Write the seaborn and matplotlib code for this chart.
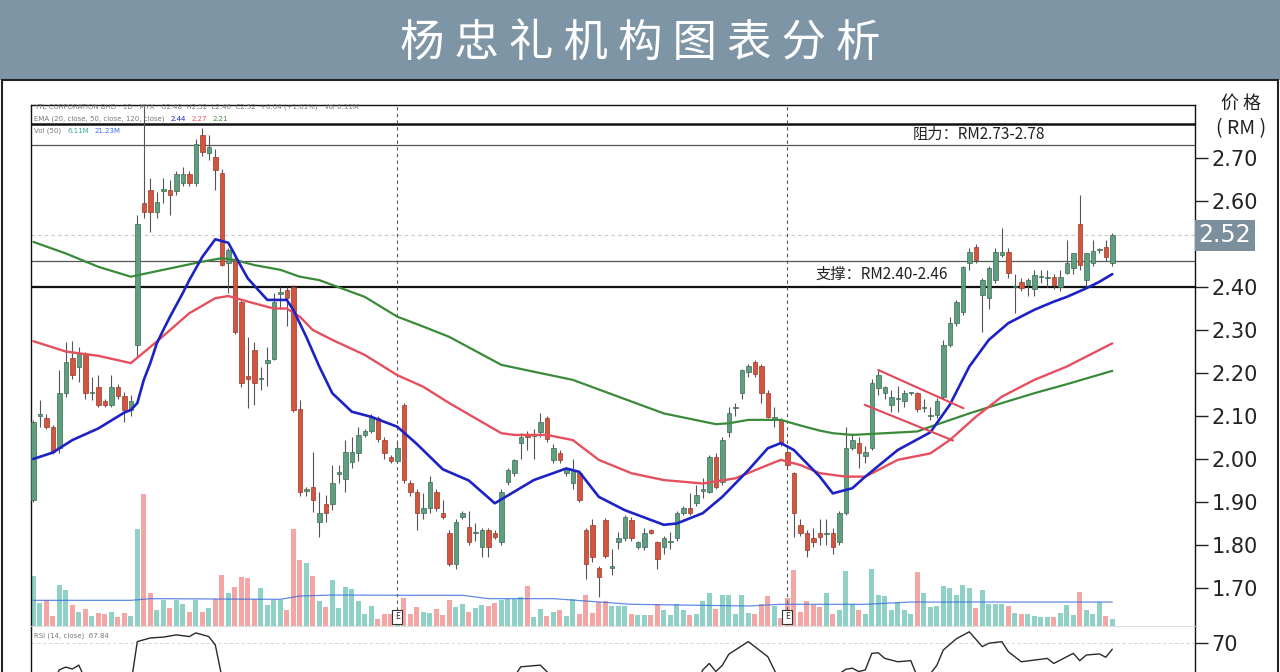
import numpy as np
import pandas as pd
import matplotlib
matplotlib.use("Agg")
import matplotlib.pyplot as plt
import seaborn as sns
from matplotlib.patches import Rectangle

# ---- values (daily candles, RM) ----
title = "杨忠礼机构图表分析"

opens = [
    1.905, 2.100, 2.095, 2.074, 2.025, 2.153, 2.235, 2.214, 2.244, 2.153,
    2.167, 2.135, 2.126, 2.167, 2.147, 2.114, 2.265, 2.595, 2.626, 2.574,
    2.624, 2.626, 2.623, 2.642, 2.663, 2.642, 2.753, 2.712, 2.702, 2.665,
    2.456, 2.463, 2.365, 2.193, 2.253, 2.186, 2.223, 2.233, 2.384, 2.393,
    2.400, 2.116, 1.925, 1.935, 1.854, 1.895, 1.895, 1.965, 1.953, 1.993,
    2.014, 2.056, 2.065, 2.095, 2.044, 2.005, 1.995, 2.126, 1.944, 1.923,
    1.874, 1.886, 1.923, 1.874, 1.828, 1.756, 1.865, 1.842, 1.827, 1.795,
    1.835, 1.828, 1.807, 1.946, 1.967, 2.037, 2.053, 2.053, 2.063, 2.095,
    1.998, 2.014, 1.967, 1.944, 1.967, 1.835, 1.846, 1.747, 1.858, 1.747,
    1.807, 1.816, 1.858, 1.795, 1.795, 1.835, 1.807, 1.795, 1.807, 1.816,
    1.874, 1.886, 1.898, 1.925, 1.923, 2.005, 1.946, 2.063, 2.119, 2.153,
    2.202, 2.226, 2.216, 2.153, 2.094, 2.091, 2.016, 1.967, 1.846, 1.828,
    1.816, 1.828, 1.826, 1.828, 1.807, 1.874, 2.026, 2.037, 2.007, 2.026,
    2.165, 2.153, 2.126, 2.140, 2.135, 2.153, 2.153, 2.118, 2.100, 2.102,
    2.144, 2.265, 2.316, 2.342, 2.456, 2.493, 2.381, 2.374, 2.416, 2.474,
    2.481, 2.400, 2.412, 2.405, 2.395, 2.423, 2.420, 2.423, 2.400, 2.433,
    2.444, 2.547, 2.416, 2.456, 2.486, 2.493, 2.456]
closes = [
    2.086, 2.105, 2.075, 2.016, 2.153, 2.226, 2.195, 2.247, 2.153, 2.154,
    2.126, 2.126, 2.167, 2.147, 2.114, 2.135, 2.547, 2.574, 2.574, 2.598,
    2.626, 2.614, 2.663, 2.663, 2.642, 2.733, 2.714, 2.726, 2.672, 2.451,
    2.486, 2.295, 2.177, 2.186, 2.177, 2.188, 2.230, 2.365, 2.388, 2.374,
    2.114, 1.923, 1.930, 1.905, 1.874, 1.874, 1.944, 1.969, 2.016, 2.016,
    2.056, 2.065, 2.098, 2.047, 2.014, 1.995, 2.026, 1.951, 1.923, 1.874,
    1.886, 1.946, 1.886, 1.865, 1.756, 1.853, 1.874, 1.807, 1.828, 1.835,
    1.795, 1.819, 1.923, 1.974, 1.998, 2.051, 2.052, 2.054, 2.086, 2.047,
    2.026, 1.998, 1.977, 1.974, 1.905, 1.756, 1.772, 1.726, 1.774, 1.748,
    1.816, 1.865, 1.816, 1.807, 1.828, 1.828, 1.767, 1.816, 1.808, 1.874,
    1.886, 1.874, 1.916, 1.930, 2.005, 1.935, 2.044, 2.107, 2.120, 2.207,
    2.216, 2.198, 2.153, 2.098, 2.098, 2.037, 1.986, 1.874, 1.828, 1.788,
    1.807, 1.819, 1.829, 1.795, 1.874, 2.026, 2.044, 2.014, 2.016, 2.177,
    2.195, 2.167, 2.144, 2.141, 2.153, 2.154, 2.116, 2.122, 2.101, 2.135,
    2.265, 2.316, 2.365, 2.447, 2.481, 2.463, 2.416, 2.444, 2.481, 2.481,
    2.433, 2.402, 2.398, 2.416, 2.428, 2.424, 2.421, 2.405, 2.423, 2.456,
    2.479, 2.451, 2.479, 2.484, 2.487, 2.470, 2.520]
highs = [
    2.090, 2.137, 2.105, 2.080, 2.207, 2.272, 2.274, 2.260, 2.250, 2.190,
    2.195, 2.140, 2.195, 2.175, 2.155, 2.150, 2.568, 2.820, 2.653, 2.620,
    2.653, 2.650, 2.670, 2.680, 2.670, 2.744, 2.770, 2.753, 2.720, 2.675,
    2.490, 2.470, 2.370, 2.284, 2.272, 2.215, 2.260, 2.386, 2.400, 2.400,
    2.405, 2.137, 1.935, 2.016, 1.923, 1.916, 1.986, 1.986, 2.044, 2.050,
    2.075, 2.070, 2.105, 2.100, 2.050, 2.010, 2.040, 2.130, 1.950, 1.930,
    1.920, 1.960, 1.930, 1.905, 1.835, 1.860, 1.880, 1.880, 1.850, 1.840,
    1.840, 1.835, 1.930, 1.980, 2.000, 2.060, 2.065, 2.070, 2.107, 2.100,
    2.035, 2.020, 1.980, 2.000, 1.970, 1.840, 1.860, 1.750, 1.862, 1.790,
    1.830, 1.870, 1.865, 1.810, 1.840, 1.838, 1.810, 1.820, 1.830, 1.880,
    1.890, 1.920, 1.940, 1.955, 2.010, 2.015, 2.050, 2.120, 2.130, 2.210,
    2.220, 2.230, 2.220, 2.160, 2.120, 2.095, 2.020, 1.970, 1.860, 1.835,
    1.840, 1.860, 1.860, 1.840, 1.880, 2.075, 2.060, 2.050, 2.030, 2.186,
    2.207, 2.170, 2.160, 2.170, 2.160, 2.156, 2.156, 2.140, 2.120, 2.143,
    2.277, 2.330, 2.370, 2.450, 2.490, 2.500, 2.420, 2.450, 2.490, 2.537,
    2.490, 2.430, 2.420, 2.420, 2.440, 2.440, 2.440, 2.430, 2.440, 2.509,
    2.480, 2.614, 2.480, 2.510, 2.490, 2.510, 2.525]
lows = [
    1.900, 2.074, 2.070, 2.012, 2.015, 2.144, 2.185, 2.180, 2.140, 2.137,
    2.120, 2.120, 2.120, 2.140, 2.086, 2.100, 2.237, 2.560, 2.528, 2.560,
    2.595, 2.567, 2.615, 2.635, 2.635, 2.635, 2.705, 2.695, 2.626, 2.450,
    2.386, 2.290, 2.168, 2.118, 2.126, 2.160, 2.170, 2.230, 2.350, 2.310,
    2.110, 1.915, 1.915, 1.877, 1.819, 1.853, 1.881, 1.944, 1.923, 1.980,
    1.995, 2.050, 2.060, 2.040, 2.000, 1.990, 1.990, 1.945, 1.915, 1.835,
    1.860, 1.874, 1.880, 1.860, 1.750, 1.745, 1.860, 1.800, 1.810, 1.772,
    1.772, 1.815, 1.800, 1.940, 1.960, 2.000, 2.020, 2.000, 2.050, 2.040,
    1.990, 1.990, 1.960, 1.930, 1.900, 1.720, 1.760, 1.679, 1.770, 1.730,
    1.790, 1.810, 1.810, 1.790, 1.788, 1.826, 1.745, 1.780, 1.790, 1.810,
    1.870, 1.870, 1.890, 1.910, 1.920, 1.930, 1.940, 2.050, 2.100, 2.140,
    2.190, 2.190, 2.130, 2.095, 2.075, 2.030, 1.980, 1.819, 1.820, 1.772,
    1.795, 1.800, 1.800, 1.780, 1.800, 1.870, 2.020, 1.980, 1.990, 2.020,
    2.150, 2.140, 2.110, 2.110, 2.120, 2.150, 2.110, 2.110, 2.090, 2.095,
    2.140, 2.260, 2.310, 2.335, 2.440, 2.455, 2.295, 2.350, 2.410, 2.470,
    2.420, 2.340, 2.390, 2.380, 2.380, 2.410, 2.400, 2.395, 2.390, 2.430,
    2.430, 2.440, 2.400, 2.450, 2.480, 2.460, 2.450]
# volume in millions of shares
volumes = [
    44.3, 20.1, 22.7, 8.9, 36.0, 31.6, 18.3, 12.4, 14.8, 8.9,
    11.2, 10.9, 12.4, 8.2, 11.2, 8.9, 86.1, 117.1, 28.9, 13.9,
    22.7, 16.2, 22.7, 19.7, 12.7, 22.7, 12.7, 15.7, 23.6, 45.1,
    29.5, 34.5, 43.6, 42.7, 23.6, 33.9, 18.3, 22.7, 22.7, 13.9,
    85.6, 58.1, 56.0, 44.3, 22.1, 16.8, 40.4, 16.2, 34.5, 32.5,
    22.1, 10.9, 17.7, 5.9, 10.9, 10.9, 8.9, 25.0, 10.9, 16.8,
    12.7, 11.2, 15.3, 9.7, 22.7, 16.8, 19.7, 12.7, 16.2, 18.6,
    17.7, 20.1, 22.7, 23.6, 23.6, 25.7, 35.4, 8.2, 15.3, 8.9,
    12.4, 13.9, 8.9, 23.6, 10.9, 27.4, 11.8, 21.5, 22.1, 17.7,
    17.7, 17.7, 10.9, 9.7, 9.7, 9.7, 19.7, 13.9, 9.7, 19.2,
    13.9, 9.7, 10.9, 22.1, 29.5, 15.3, 27.4, 27.4, 10.9, 27.2,
    11.8, 10.4, 19.2, 26.6, 17.7, 7.3, 24.5, 49.3, 12.7, 22.1,
    18.6, 16.8, 29.5, 10.9, 13.9, 48.7, 19.7, 13.9, 10.9, 50.2,
    27.4, 26.6, 13.9, 21.5, 13.9, 10.9, 47.8, 29.5, 16.8, 17.7,
    35.4, 33.9, 27.4, 36.0, 33.4, 16.2, 31.6, 19.2, 19.2, 19.7,
    17.7, 11.8, 10.9, 10.9, 8.9, 8.2, 8.2, 8.2, 11.8, 18.6,
    9.5, 30.4, 13.9, 10.9, 21.5, 8.9, 6.5]

# moving averages read at points along the curves (candle index, value)
ema20_idx = [0, 3, 6, 10, 14, 15, 16, 17, 18, 19, 20, 21, 22, 23, 24, 26, 28, 30, 32, 33,
             36, 39, 40, 42, 44, 46, 49, 52, 56, 59, 63, 67, 71, 77, 82, 84, 87, 91, 97, 99,
             103, 106, 108, 110, 113, 115, 117, 121, 123, 126, 128, 133, 138, 141, 144, 147,
             150, 154, 157, 159, 162, 164, 166]
ema20 = [2.000, 2.015, 2.044, 2.071, 2.108, 2.114, 2.130, 2.184, 2.223, 2.269, 2.300, 2.330,
         2.358, 2.386, 2.416, 2.470, 2.511, 2.503, 2.447, 2.420, 2.370, 2.370, 2.347, 2.284,
         2.215, 2.153, 2.110, 2.098, 2.075, 2.035, 1.976, 1.950, 1.897, 1.951, 1.978, 1.970,
         1.912, 1.881, 1.847, 1.850, 1.874, 1.912, 1.943, 1.974, 2.025, 2.037, 2.021, 1.959,
         1.920, 1.932, 1.959, 2.021, 2.062, 2.126, 2.215, 2.277, 2.316, 2.347, 2.366, 2.377,
         2.397, 2.412, 2.430]
ema50_idx = [0, 5, 10, 15, 19, 24, 28, 30, 34, 37, 39, 41, 43, 46, 51, 56, 60, 64, 72, 74,
             79, 83, 87, 92, 97, 103, 108, 113, 115, 118, 121, 125, 128, 133, 138, 141, 145,
             149, 154, 159, 166]
ema50 = [2.274, 2.250, 2.240, 2.223, 2.273, 2.339, 2.374, 2.379, 2.362, 2.350, 2.350, 2.331,
         2.300, 2.277, 2.242, 2.195, 2.168, 2.130, 2.060, 2.056, 2.056, 2.044, 1.998, 1.967,
         1.951, 1.943, 1.955, 1.986, 1.998, 1.986, 1.967, 1.959, 1.959, 1.998, 2.013, 2.044,
         2.098, 2.145, 2.184, 2.215, 2.269]
ema120_idx = [0, 5, 10, 15, 20, 26, 29, 31, 34, 38, 41, 44, 51, 56, 60, 64, 72, 77, 83, 90,
              97, 105, 107, 110, 115, 118, 121, 123, 126, 131, 136, 138, 144, 149, 154, 159, 166]
ema120 = [2.505, 2.478, 2.447, 2.424, 2.440, 2.459, 2.467, 2.463, 2.451, 2.440, 2.424, 2.416,
          2.377, 2.331, 2.308, 2.284, 2.219, 2.203, 2.184, 2.145, 2.106, 2.081, 2.083, 2.091,
          2.091, 2.078, 2.066, 2.060, 2.056, 2.060, 2.064, 2.075, 2.106, 2.130, 2.153, 2.174,
          2.205]
volma_idx = [0, 15, 18, 38, 41, 46, 56, 66, 70, 80, 85, 92, 110, 115, 128, 135, 166]
volma = [22.7, 22.7, 24.2, 23.6, 26.5, 27.4, 27.2, 27.2, 24.2, 24.2, 22.1, 19.2, 17.7, 19.2,
         19.2, 21.2, 21.2]
rsi_idx = [0, 3, 4, 5, 6, 7, 8, 11, 14, 15, 16, 18, 20, 22, 24, 25, 27, 28, 29, 32, 38, 44,
           50, 56, 62, 68, 73, 74, 75, 78, 79, 82, 90, 98, 102, 103, 104, 105, 106, 107, 108,
           110, 111, 113, 114, 116, 120, 124, 125, 126, 127, 128, 129, 130, 131, 133, 135, 136,
           137, 138, 139, 140, 141, 142, 144, 146, 147, 149, 150, 152, 154, 156, 157, 159, 160,
           161, 162, 164, 165, 166]
rsi = [52, 56, 60.4, 61.4, 60.7, 62.1, 57, 50, 50, 55, 70.5, 71.8, 72.1, 72.9, 72.3, 73.6,
       72.3, 69.3, 58, 42, 35, 38, 48, 42, 38, 42, 55, 58, 61.5, 62.1, 59.8, 52, 40, 42, 55,
       60.4, 62.7, 59.8, 62, 66, 67.5, 70.5, 68.7, 65.1, 60.4, 50, 42, 59, 60.6, 61, 59.8, 60.4,
       66.3, 66.5, 64.5, 63.3, 63.7, 58, 55, 59, 62, 67.5, 69.5, 71.5, 74, 68.7, 69.9, 70.5, 66.9,
       63.3, 63.9, 64.5, 62.7, 65.1, 66.3, 63.7, 65.7, 66.1, 64.9, 67.8]

earnings_idx = [56, 116]
resistance = (2.73, 2.78)
support = (2.40, 2.46)
last_price = 2.52
flag_upper = ([130.0, 143.1], [2.207, 2.118])
flag_lower = ([127.9, 141.5], [2.126, 2.043])

df = pd.DataFrame({"idx": np.arange(len(opens)), "open": opens, "high": highs,
                   "low": lows, "close": closes, "volume": volumes})
df["dir"] = np.where(df["close"] >= df["open"], "up", "down")

sns.set_theme(style="white")
plt.rcParams["font.family"] = ["Noto Sans CJK SC", "DejaVu Sans"]

W, H = 1280, 672
fig = plt.figure(figsize=(W / 100, H / 100), dpi=100)


def fx(px):
    return px / W


def fy(py):
    return 1 - py / H


# title banner + panel frame
fig.add_artist(Rectangle((0, fy(80)), 1, 80 / H, transform=fig.transFigure,
                         facecolor="#7d95a5", edgecolor="none"))
fig.text(0.5, fy(43), " ".join(title), color="white", fontsize=32,
         ha="center", va="center", fontweight="medium")
fig.add_artist(Rectangle((fx(2), -0.01), fx(1276), fy(80) + 0.01, transform=fig.transFigure,
                         fill=False, edgecolor="#222222", lw=1.5))

xmin, xmax = (31 - 33.3) / 6.5, (1195 - 33.3) / 6.5
ymin, ymax = 1.6116, 2.8233
rect = [fx(31), fy(626), (1195 - 31) / W, (626 - 105) / H]

# volume (drawn underneath)
axv = fig.add_axes(rect)
sns.barplot(data=df, x="idx", y="volume", color="#8fd0c7", native_scale=True, width=0.8,
            saturation=1, errorbar=None, ax=axv)
vol_colors = {"up": "#8fd0c7", "down": "#f4a6a4"}
for patch, d in zip(axv.patches, df["dir"]):
    patch.set_facecolor(vol_colors[d])
    patch.set_edgecolor("none")
sns.lineplot(x=volma_idx, y=volma, ax=axv, color="#3a6ee0", lw=0.9, alpha=0.8)
axv.set_xlim(xmin, xmax)
axv.set_ylim(0, 461)
axv.axis("off")

# price
ax = fig.add_axes(rect)
ax.patch.set_alpha(0)
up = df["dir"] == "up"
ax.vlines(df["idx"], df["low"], df["high"], color="#555555", lw=0.8, zorder=2)
body_lo = np.minimum(df["open"], df["close"])
body_h = np.maximum((df["close"] - df["open"]).abs(), 0.003)
ax.bar(df["idx"], body_h, bottom=body_lo, width=0.68,
       color=np.where(up, "#5f9f7f", "#d4553f"), edgecolor=np.where(up, "#3b6b52", "#9a3a2b"),
       lw=0.5, zorder=3)

sns.lineplot(x=ema120_idx, y=ema120, ax=ax, color="#3a8a3a", lw=1.6, zorder=4)
sns.lineplot(x=ema50_idx, y=ema50, ax=ax, color="#e5505e", lw=1.7, zorder=4)
sns.lineplot(x=ema20_idx, y=ema20, ax=ax, color="#1c22c4", lw=1.9, zorder=5)
ax.plot(*flag_upper, color="#e0485a", lw=1.5, zorder=5)
ax.plot(*flag_lower, color="#e0485a", lw=1.5, zorder=5)

ax.axhline(resistance[1], color="#111111", lw=1.8, zorder=1)
ax.axhline(resistance[0], color="#555555", lw=0.9, zorder=1)
ax.axhline(support[1], color="#555555", lw=0.9, zorder=1)
ax.axhline(support[0], color="#111111", lw=1.6, zorder=1)
ax.axhline(last_price, color="#c8c8c8", lw=0.8, ls=(0, (3, 3)), zorder=1)

ax.text(145.5, (resistance[0] + resistance[1]) / 2, "阻力：RM2.73-2.78", ha="center",
        va="center", fontsize=11, color="#222222")
ax.text(130.5, 2.43, "支撑：RM2.40-2.46", ha="center", va="center", fontsize=11, color="#222222")

for e in earnings_idx:
    ax.vlines(e, 1.649, ymax, colors="#555555", linestyles=(0, (3, 3)), lw=0.8, zorder=1)
    ax.text(e, 1.633, "E", ha="center", va="center", fontsize=6, color="#333333",
            bbox=dict(boxstyle="square,pad=0.3", fc="white", ec="#333333", lw=0.8))

ax.set_xlim(xmin, xmax)
ax.set_ylim(ymin, ymax)
yt = [2.7, 2.6, 2.4, 2.3, 2.2, 2.1, 2.0, 1.9, 1.8, 1.7]
ax.yaxis.tick_right()
ax.set_yticks(yt)
ax.set_yticklabels([f"{v:.2f}" for v in yt], fontsize=15, fontfamily="DejaVu Sans", color="#222222")
ax.tick_params(axis="y", direction="out", length=9, width=1, pad=3, color="#222222")
ax.set_xticks([])
ax.set_xlabel("")
ax.set_ylabel("")
for s in ["top", "left", "right"]:
    ax.spines[s].set_color("#111111")
    ax.spines[s].set_linewidth(1)
ax.spines["bottom"].set_color("#dddddd")
ax.spines["bottom"].set_linewidth(0.8)

ax.text(1.003, last_price, f"{last_price:.2f}", transform=ax.get_yaxis_transform(), ha="left",
        va="center", fontsize=17, color="white", fontfamily="DejaVu Sans",
        bbox=dict(boxstyle="square,pad=0.15", fc="#7b8f9d", ec="none"))

# header lines (tiny)
hdr = dict(transform=ax.transAxes, fontsize=5, color="#777777", ha="left", va="center",
           fontfamily="DejaVu Sans")
ax.text(0.003, 0.9962, "YTL CORPORATION BHD · 1D · MYX   O2.48  H2.52  L2.46  C2.52  +0.04 (+1.61%)"
        "   Vol 6.11M", **hdr)
t = ax.text(0.003, 0.9731, "EMA (20, close, 50, close, 120, close)", **hdr)
prev = t
for val, col in [("2.44", "#1c22c4"), ("2.27", "#e5505e"), ("2.21", "#3a8a3a")]:
    prev = ax.annotate(val, xy=(1, 0.5), xycoords=prev, xytext=(4, 0), textcoords="offset points",
                       fontsize=5, color=col, ha="left", va="center", fontfamily="DejaVu Sans")
t = ax.text(0.003, 0.950, "Vol (50)", **hdr)
a = ax.annotate("6.11M", xy=(1, 0.5), xycoords=t, xytext=(4, 0), textcoords="offset points",
                fontsize=5, color="#3aa89a", ha="left", va="center", fontfamily="DejaVu Sans")
ax.annotate("21.23M", xy=(1, 0.5), xycoords=a, xytext=(4, 0), textcoords="offset points",
            fontsize=5, color="#3a6ee0", ha="left", va="center", fontfamily="DejaVu Sans")

fig.text(fx(1241), fy(104), "价 格", fontsize=13, ha="center", va="center", color="#222222")
fig.text(fx(1241), fy(129), "( RM )", fontsize=14, ha="center", va="center", color="#222222")

# RSI pane
axr = fig.add_axes([fx(31), 0, (1195 - 31) / W, (672 - 627) / H])
axr.patch.set_alpha(0)
axr.axhline(70, color="#d0d0d0", lw=0.6, ls=(0, (4, 3)))
sns.lineplot(x=rsi_idx, y=rsi, ax=axr, color="#2a2a2a", lw=1.0)
axr.set_xlim(xmin, xmax)
axr.set_ylim(70 - 29 / 2.8, 70 + 16 / 2.8)
axr.yaxis.tick_right()
axr.set_yticks([70])
axr.set_yticklabels(["70"], fontsize=15, fontfamily="DejaVu Sans", color="#222222")
axr.tick_params(axis="y", direction="out", length=9, width=1, pad=3, color="#222222")
axr.set_xticks([])
axr.set_xlabel("")
axr.set_ylabel("")
for s in ["left", "right"]:
    axr.spines[s].set_color("#111111")
    axr.spines[s].set_linewidth(1)
axr.spines["top"].set_visible(False)
axr.spines["bottom"].set_visible(False)
axr.text(0.003, 0.8, "RSI (14, close)  67.84", transform=axr.transAxes, fontsize=5,
         color="#777777", ha="left", va="center", fontfamily="DejaVu Sans")

fig.savefig("out.png", dpi=100)
